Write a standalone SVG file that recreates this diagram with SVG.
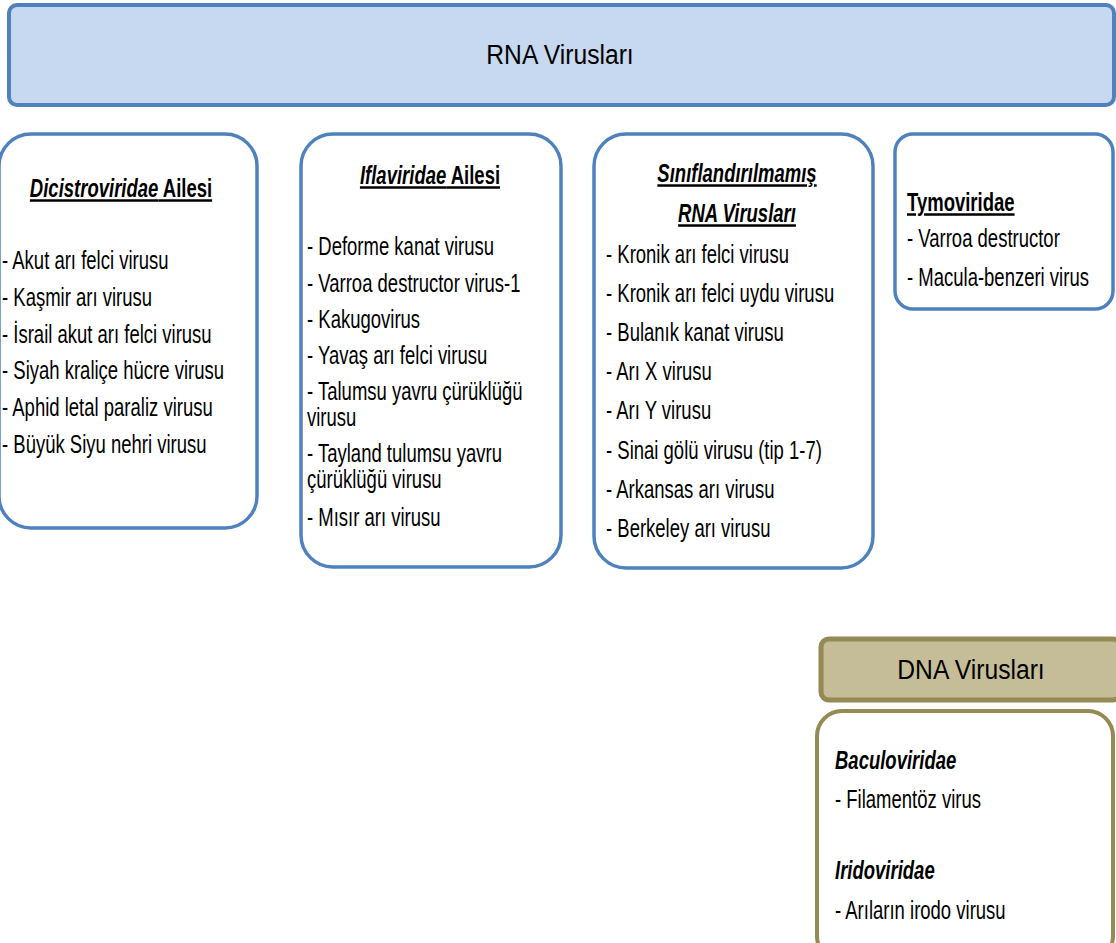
<svg xmlns="http://www.w3.org/2000/svg" width="1116" height="943" viewBox="0 0 1116 943">
<style>
.bluebox{fill:#ffffff;stroke:#4f81bd;stroke-width:3.5}
.banner{fill:#c6d9f1;stroke:#4f81bd;stroke-width:4}
.olivebox{fill:#ffffff;stroke:#948a54;stroke-width:4}
.olivebanner{fill:#c4bd97;stroke:#948a54;stroke-width:5}
.big{font-family:"Liberation Sans",Arial,sans-serif;font-size:28px;fill:#000}
.t{font-family:"Liberation Sans",Arial,sans-serif;font-size:25px;fill:#000}
.h{font-weight:bold;text-decoration:underline}
.i{font-style:italic}
.bi{font-weight:bold;font-style:italic}
</style>
<rect width="1116" height="943" fill="#ffffff"/>
<g id="rna-banner">
<rect class="banner" x="9" y="5" width="1105" height="100" rx="8"/>
<g transform="translate(560 0) scale(0.88 1)">
<text class="big" x="0" y="64" text-anchor="middle">RNA Virusları</text>
</g>
</g>
<g id="dicistroviridae">
<rect class="bluebox" x="-1" y="134" width="258" height="394" rx="32"/>
<g transform="translate(121 0) scale(0.74 1)">
<text class="t h" x="0" y="197" text-anchor="middle"><tspan class="i">Dicistroviridae</tspan> Ailesi</text>
</g>
<g transform="translate(2 0) scale(0.74 1)">
<text class="t" x="0" y="269">- Akut arı felci virusu</text>
<text class="t" x="0" y="306">- Kaşmir arı virusu</text>
<text class="t" x="0" y="343">- İsrail akut arı felci virusu</text>
<text class="t" x="0" y="379">- Siyah kraliçe hücre virusu</text>
<text class="t" x="0" y="416">- Aphid letal paraliz virusu</text>
<text class="t" x="0" y="453">- Büyük Siyu nehri virusu</text>
</g>
</g>
<g id="iflaviridae">
<rect class="bluebox" x="301" y="134" width="260" height="433" rx="32"/>
<g transform="translate(430 0) scale(0.74 1)">
<text class="t h" x="0" y="184" text-anchor="middle"><tspan class="i">Iflaviridae</tspan> Ailesi</text>
</g>
<g transform="translate(307 0) scale(0.74 1)">
<text class="t" x="0" y="255">- Deforme kanat virusu</text>
<text class="t" x="0" y="292">- Varroa destructor virus-1</text>
<text class="t" x="0" y="328">- Kakugovirus</text>
<text class="t" x="0" y="364">- Yavaş arı felci virusu</text>
<text class="t" x="0" y="400">- Talumsu yavru çürüklüğü</text>
<text class="t" x="0" y="426">virusu</text>
<text class="t" x="0" y="462">- Tayland tulumsu yavru</text>
<text class="t" x="0" y="488">çürüklüğü virusu</text>
<text class="t" x="0" y="526">- Mısır arı virusu</text>
</g>
</g>
<g id="unclassified">
<rect class="bluebox" x="594" y="134" width="279" height="434" rx="32"/>
<g transform="translate(737 0) scale(0.74 1)">
<text class="t h bi" x="0" y="182" text-anchor="middle">Sınıflandırılmamış</text>
<text class="t h bi" x="0" y="222" text-anchor="middle">RNA Virusları</text>
</g>
<g transform="translate(606 0) scale(0.74 1)">
<text class="t" x="0" y="263">- Kronik arı felci virusu</text>
<text class="t" x="0" y="302">- Kronik arı felci uydu virusu</text>
<text class="t" x="0" y="341">- Bulanık kanat virusu</text>
<text class="t" x="0" y="380">- Arı X virusu</text>
<text class="t" x="0" y="419">- Arı Y virusu</text>
<text class="t" x="0" y="459">- Sinai gölü virusu (tip 1-7)</text>
<text class="t" x="0" y="498">- Arkansas arı virusu</text>
<text class="t" x="0" y="537">- Berkeley arı virusu</text>
</g>
</g>
<g id="tymoviridae">
<rect class="bluebox" x="895" y="134" width="218" height="175" rx="18"/>
<g transform="translate(907 0) scale(0.74 1)">
<text class="t h" x="0" y="211">Tymoviridae</text>
<text class="t" x="0" y="247">- Varroa destructor</text>
<text class="t" x="0" y="286">- Macula-benzeri virus</text>
</g>
</g>
<g id="dna-banner">
<rect class="olivebanner" x="821" y="639" width="300" height="61" rx="8"/>
<g transform="translate(971 0) scale(0.88 1)">
<text class="big" x="0" y="679" text-anchor="middle">DNA Virusları</text>
</g>
</g>
<g id="dna-families">
<rect class="olivebox" x="817" y="711" width="296" height="250" rx="25"/>
<g transform="translate(835 0) scale(0.74 1)">
<text class="t bi" x="0" y="769">Baculoviridae</text>
<text class="t" x="0" y="808">- Filamentöz virus</text>
<text class="t bi" x="0" y="879">Iridoviridae</text>
<text class="t" x="0" y="919">- Arıların irodo virusu</text>
</g>
</g>
<g id="connectors"></g>
</svg>
